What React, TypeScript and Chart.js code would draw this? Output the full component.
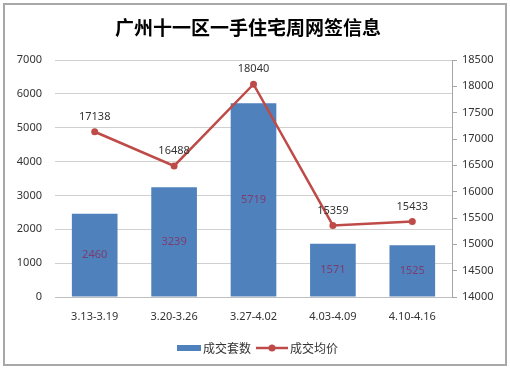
import React, { useEffect, useRef } from 'react';
import { Chart, registerables } from 'chart.js';

Chart.register(...registerables);

const TITLE = '广州十一区一手住宅周网签信息';
const categories = ['3.13-3.19', '3.20-3.26', '3.27-4.02', '4.03-4.09', '4.10-4.16'];
const volumeLabel = '成交套数';
const priceLabel = '成交均价';
const volumes = [2460, 3239, 5719, 1571, 1525];
const prices = [17138, 16488, 18040, 15359, 15433];
const leftMin = 0;
const leftMax = 7000;
const leftStep = 1000;
const rightMin = 14000;
const rightMax = 18500;
const rightStep = 500;

const BAR_COLOR = '#4F81BD';
const LINE_COLOR = '#BE4B48';
const FONT = '"Noto Sans", "Noto Sans CJK SC", sans-serif';

function makeBarIcon(): HTMLCanvasElement {
  const c = document.createElement('canvas');
  c.width = 33;
  c.height = 8;
  const g = c.getContext('2d')!;
  g.fillStyle = BAR_COLOR;
  g.fillRect(9, 1, 24, 6);
  return c;
}

function makeLineIcon(): HTMLCanvasElement {
  const c = document.createElement('canvas');
  c.width = 33;
  c.height = 8;
  const g = c.getContext('2d')!;
  g.strokeStyle = LINE_COLOR;
  g.lineWidth = 2.5;
  g.beginPath();
  g.moveTo(1, 4);
  g.lineTo(33, 4);
  g.stroke();
  g.fillStyle = LINE_COLOR;
  g.beginPath();
  g.arc(17, 4, 3.5, 0, Math.PI * 2);
  g.fill();
  return c;
}

const titlePlugin = {
  id: 'customTitle',
  afterDraw(chart: any) {
    const ctx = chart.ctx;
    ctx.save();
    ctx.font = 'bold 19px "Noto Sans CJK SC", sans-serif';
    ctx.fillStyle = '#000000';
    ctx.textAlign = 'center';
    ctx.textBaseline = 'middle';
    ctx.fillText(TITLE, 248, 28);
    ctx.restore();
  },
};

const valueLabelPlugin = {
  id: 'valueLabels',
  afterDatasetsDraw(chart: any) {
    const ctx = chart.ctx;
    ctx.save();
    ctx.font = '11px "Noto Sans", sans-serif';
    ctx.textAlign = 'center';
    ctx.textBaseline = 'middle';
    const barMeta = chart.getDatasetMeta(0);
    barMeta.data.forEach((el: any, i: number) => {
      ctx.fillStyle = '#7E3C6E';
      ctx.fillText(String(volumes[i]), el.x, (el.y + el.base) / 2);
    });
    const lineMeta = chart.getDatasetMeta(1);
    lineMeta.data.forEach((el: any, i: number) => {
      ctx.fillStyle = '#333333';
      ctx.fillText(String(prices[i]), el.x, el.y - 15);
    });
    ctx.restore();
  },
};

export default function App() {
  const ref = useRef<HTMLCanvasElement | null>(null);

  useEffect(() => {
    if (!ref.current) return;
    const barIcon = makeBarIcon();
    const lineIcon = makeLineIcon();
    const chart = new Chart(ref.current, {
      type: 'bar',
      data: {
        labels: categories,
        datasets: [
          {
            type: 'bar',
            label: volumeLabel,
            data: volumes,
            backgroundColor: BAR_COLOR,
            yAxisID: 'y',
            barPercentage: 0.575,
            categoryPercentage: 1,
            order: 2,
          } as any,
          {
            type: 'line',
            label: priceLabel,
            data: prices,
            borderColor: LINE_COLOR,
            backgroundColor: LINE_COLOR,
            borderWidth: 2.5,
            pointRadius: 3.5,
            pointBackgroundColor: LINE_COLOR,
            pointBorderColor: LINE_COLOR,
            pointBorderWidth: 0,
            tension: 0,
            yAxisID: 'y1',
            order: 1,
          } as any,
        ],
      },
      options: {
        responsive: false,
        animation: false,
        devicePixelRatio: 1,
        layout: { padding: { top: 60, bottom: 5, left: 0, right: 0 } },
        plugins: {
          title: { display: false },
          tooltip: { enabled: false },
          legend: {
            display: true,
            position: 'bottom',
            labels: {
              usePointStyle: true,
              pointStyleWidth: 25,
              padding: 8,
              color: '#333333',
              font: { size: 12, family: '"Noto Sans CJK SC", sans-serif' },
              generateLabels: (c: any) => {
                const items = (Chart.defaults.plugins.legend.labels as any).generateLabels(c);
                items.sort((a: any, b: any) => a.datasetIndex - b.datasetIndex);
                items.forEach((it: any) => {
                  it.pointStyle = it.datasetIndex === 0 ? barIcon : lineIcon;
                });
                return items;
              },
            },
          },
        },
        scales: {
          x: {
            grid: { display: false },
            border: { display: true, color: '#bfbfbf' },
            ticks: {
              color: '#333333',
              font: { size: 11, family: FONT },
              padding: 5,
              maxRotation: 0,
              autoSkip: false,
            },
            afterFit: (s: any) => {
              s.height = 37;
            },
          },
          y: {
            position: 'left',
            min: leftMin,
            max: leftMax,
            ticks: {
              stepSize: leftStep,
              color: '#333333',
              font: { size: 11, family: FONT },
              padding: 13,
              callback: (v: any) => String(v),
            },
            grid: { color: '#d0d0d0', drawTicks: false },
            border: { display: false },
            afterFit: (s: any) => {
              s.width = 55;
            },
          },
          y1: {
            position: 'right',
            min: rightMin,
            max: rightMax,
            ticks: {
              stepSize: rightStep,
              color: '#333333',
              font: { size: 11, family: FONT },
              padding: 5,
              callback: (v: any) => String(v),
            },
            grid: { drawOnChartArea: false, tickLength: 5, color: '#a6a6a6' },
            border: { display: true, color: '#a6a6a6' },
            afterFit: (s: any) => {
              s.width = 58;
            },
          },
        },
      } as any,
      plugins: [titlePlugin, valueLabelPlugin],
    });
    return () => chart.destroy();
  }, []);

  return (
    <div style={{ position: 'fixed', left: 0, top: 0, width: 510, height: 369, background: '#ffffff' }}>
      <canvas ref={ref} width={510} height={369} style={{ display: 'block', width: 510, height: 369 }} />
      <div
        style={{
          position: 'absolute',
          left: 3,
          top: 3,
          width: 504,
          height: 363,
          border: '2px solid #a8a8a8',
          boxSizing: 'border-box',
          pointerEvents: 'none',
        }}
      />
    </div>
  );
}
